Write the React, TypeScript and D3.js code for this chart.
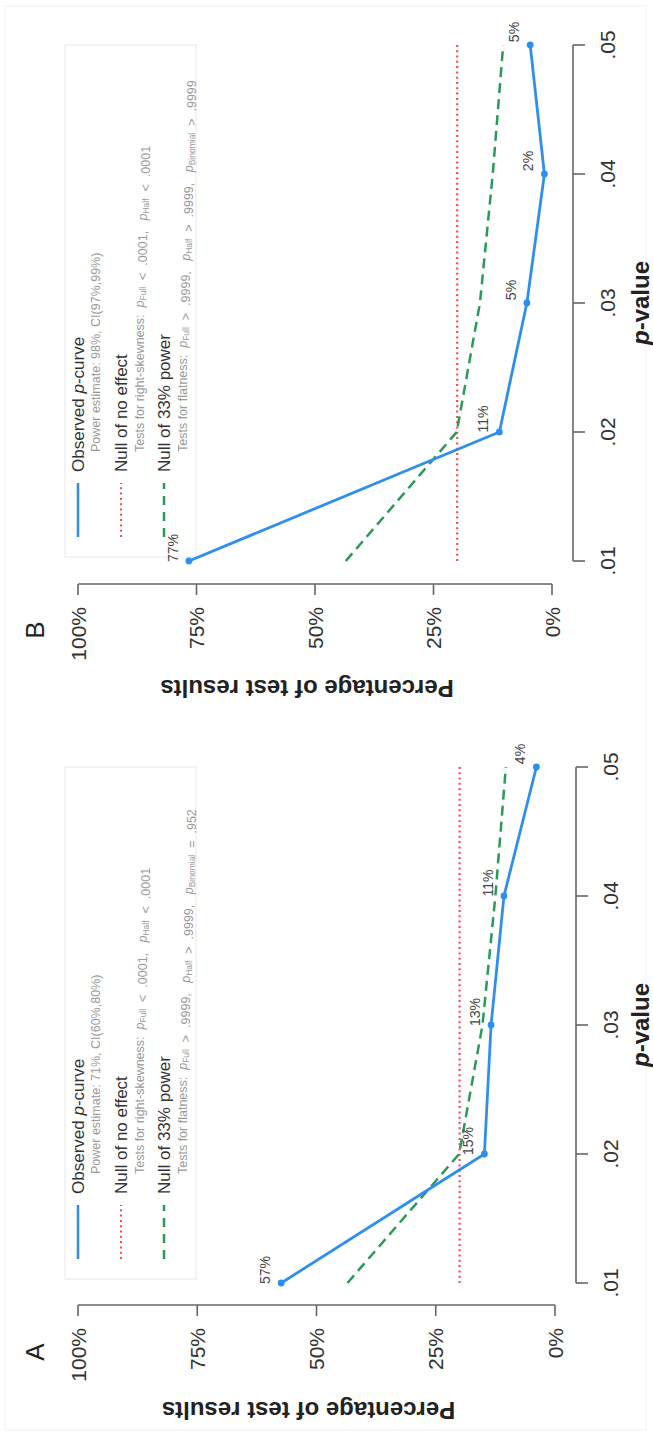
import React from "react";
import * as d3 from "d3";

const pValues = [0.01, 0.02, 0.03, 0.04, 0.05];
const pTickLabels = [".01", ".02", ".03", ".04", ".05"];
const pctTicks = [0, 25, 50, 75, 100];
const pctTickLabels = ["0%", "25%", "50%", "75%", "100%"];

const observedA = [57.4, 14.8, 13.4, 10.7, 3.9];
const observedB = [76.6, 11.1, 5.3, 1.6, 4.6];
const nullNoEffect = [20, 20, 20, 20, 20];
const null33Power = [43.5, 20.1, 15.2, 12.5, 10.3];

const powerTextA = "Power estimate: 71%, CI(60%,80%)";
const powerTextB = "Power estimate: 98%, CI(97%,99%)";
const binomialA = "=  .952";
const binomialB = ">  .9999";

const BLUE = "#2f8ff0";
const RED = "#ef4f57";
const GREEN = "#2a9a58";
const AXIS = "#666";
const FONT = "Liberation Sans, Arial, Helvetica, sans-serif";

type PanelProps = {
  letter: string;
  observed: number[];
  powerText: string;
  binomial: string;
  xLeft: number;
  xRight: number;
  yAxisX: number;
  y0: number;
  y100: number;
  pAxisY: number;
};

function Sub({ base, sub }: { base: string; sub: string }) {
  return (
    <>
      <tspan fontStyle="italic">{base}</tspan>
      <tspan fontSize="8.5" dy="3">{sub}</tspan>
      <tspan dy="-3">{""}</tspan>
    </>
  );
}

function Panel(props: PanelProps) {
  const { letter, observed, powerText, binomial, xLeft, xRight, yAxisX, y0, y100, pAxisY } = props;
  const x = d3.scaleLinear().domain([0.01, 0.05]).range([xLeft, xRight]);
  const y = d3.scaleLinear().domain([0, 100]).range([y0, y100]);
  const line = d3
    .line<number>()
    .x((_, i) => x(pValues[i]))
    .y((d) => y(d));

  const lx0 = xLeft + 24;
  const lx1 = xLeft + 78;
  const tx = xLeft + 89;
  const sx = xLeft + 109;
  const subColor = "#9a9a9a";
  const mainColor = "#333";
  const pre = { whiteSpace: "pre" as const };

  return (
    <g fontFamily={FONT}>
      {/* legend box */}
      <rect x={xLeft + 4} y={65} width={xRight - xLeft - 4} height={131} fill="none" stroke="#e8e8e8" strokeWidth={1} />
      {/* legend entries */}
      <line x1={lx0} x2={lx1} y1={78} y2={78} stroke={BLUE} strokeWidth={2.5} />
      <text x={tx} y={78} fontSize={17} fill={mainColor} dominantBaseline="central">
        Observed <tspan fontStyle="italic">p</tspan>-curve
      </text>
      <text x={sx} y={96} fontSize={12.5} fill={subColor} dominantBaseline="central">
        {powerText}
      </text>
      <line x1={lx0} x2={lx1} y1={121} y2={121} stroke={RED} strokeWidth={2} strokeDasharray="2 3.3" />
      <text x={tx} y={121} fontSize={17} fill={mainColor} dominantBaseline="central">
        Null of no effect
      </text>
      <text x={sx} y={140} fontSize={12.5} fill={subColor} dominantBaseline="central" style={pre}>
        {"Tests for right-skewness:  "}
        <Sub base="p" sub="Full" />
        {"  <  .0001,   "}
        <Sub base="p" sub="Half" />
        {"  <  .0001"}
      </text>
      <line x1={lx0} x2={lx1} y1={164} y2={164} stroke={GREEN} strokeWidth={2.5} strokeDasharray="9 7" />
      <text x={tx} y={164} fontSize={17} fill={mainColor} dominantBaseline="central">
        Null of 33% power
      </text>
      <text x={sx} y={183} fontSize={12.5} fill={subColor} dominantBaseline="central" style={pre}>
        {"Tests for flatness:  "}
        <Sub base="p" sub="Full" />
        {"  >  .9999,   "}
        <Sub base="p" sub="Half" />
        {"  >  .9999,   "}
        <Sub base="p" sub="Binomial" />
        {"  " + binomial}
      </text>

      {/* data lines */}
      <path d={line(nullNoEffect) || ""} fill="none" stroke={RED} strokeWidth={2.2} strokeDasharray="2 3.3" />
      <path d={line(null33Power) || ""} fill="none" stroke={GREEN} strokeWidth={2.5} strokeDasharray="10 6" />
      <path d={line(observed) || ""} fill="none" stroke={BLUE} strokeWidth={2.8} strokeLinejoin="round" />
      {observed.map((v, i) => (
        <circle key={"pt" + i} cx={x(pValues[i])} cy={y(v)} r={3.4} fill={BLUE} />
      ))}
      {observed.map((v, i) => (
        <text
          key={"lb" + i}
          x={x(pValues[i]) + 13}
          y={y(v) - 16}
          fontSize={14}
          fill="#444"
          textAnchor="middle"
          dominantBaseline="central"
        >
          {Math.round(v) + "%"}
        </text>
      ))}

      {/* percentage axis */}
      <line x1={yAxisX} x2={yAxisX} y1={y(0)} y2={y(100)} stroke={AXIS} strokeWidth={1.6} />
      {pctTicks.map((t, i) => (
        <g key={"yt" + i}>
          <line x1={yAxisX - 11} x2={yAxisX} y1={y(t)} y2={y(t)} stroke={AXIS} strokeWidth={1.6} />
          <text x={yAxisX - 23} y={y(t)} fontSize={21} fill="#333" textAnchor="end" dominantBaseline="central">
            {pctTickLabels[i]}
          </text>
        </g>
      ))}
      <text
        transform={`translate(${xLeft - 127},${(y0 + y100) / 2 - 8}) rotate(-90)`}
        fontSize={24}
        fontWeight="bold"
        fill="#222"
        textAnchor="middle"
        dominantBaseline="central"
      >
        Percentage of test results
      </text>

      {/* p-value axis */}
      <line x1={x(0.01)} x2={x(0.05)} y1={pAxisY} y2={pAxisY} stroke={AXIS} strokeWidth={1.6} />
      {pValues.map((p, i) => (
        <g key={"xt" + i}>
          <line x1={x(p)} x2={x(p)} y1={pAxisY} y2={pAxisY + 12} stroke={AXIS} strokeWidth={1.6} />
          <text x={x(p)} y={pAxisY + 34} fontSize={21} fill="#333" textAnchor="middle" dominantBaseline="central">
            {pTickLabels[i]}
          </text>
        </g>
      ))}
      <text
        x={(xLeft + xRight) / 2}
        y={640}
        fontSize={24}
        fontWeight="bold"
        fill="#222"
        textAnchor="middle"
        dominantBaseline="central"
      >
        <tspan fontStyle="italic">p</tspan>-value
      </text>

      {/* panel letter */}
      <text x={xLeft - 69} y={35} fontSize={26} fill="#222" textAnchor="middle" dominantBaseline="central">
        {letter}
      </text>
    </g>
  );
}

export default function App() {
  return (
    <div style={{ position: "absolute", left: 0, top: 0 }}>
      <svg width={653} height={1436} style={{ display: "block", background: "#fff" }}>
        <rect x={5} y={6} width={641} height={1424} fill="none" stroke="#f0f0f0" strokeWidth={1} />
        <g transform="translate(0,1436) rotate(-90)">
          <Panel
            letter="A"
            observed={observedA}
            powerText={powerTextA}
            binomial={binomialA}
            xLeft={153}
            xRight={669}
            yAxisX={131}
            y0={555}
            y100={78}
            pAxisY={576}
          />
          <Panel
            letter="B"
            observed={observedB}
            powerText={powerTextB}
            binomial={binomialB}
            xLeft={875}
            xRight={1391}
            yAxisX={852}
            y0={552}
            y100={78}
            pAxisY={573}
          />
        </g>
      </svg>
    </div>
  );
}
